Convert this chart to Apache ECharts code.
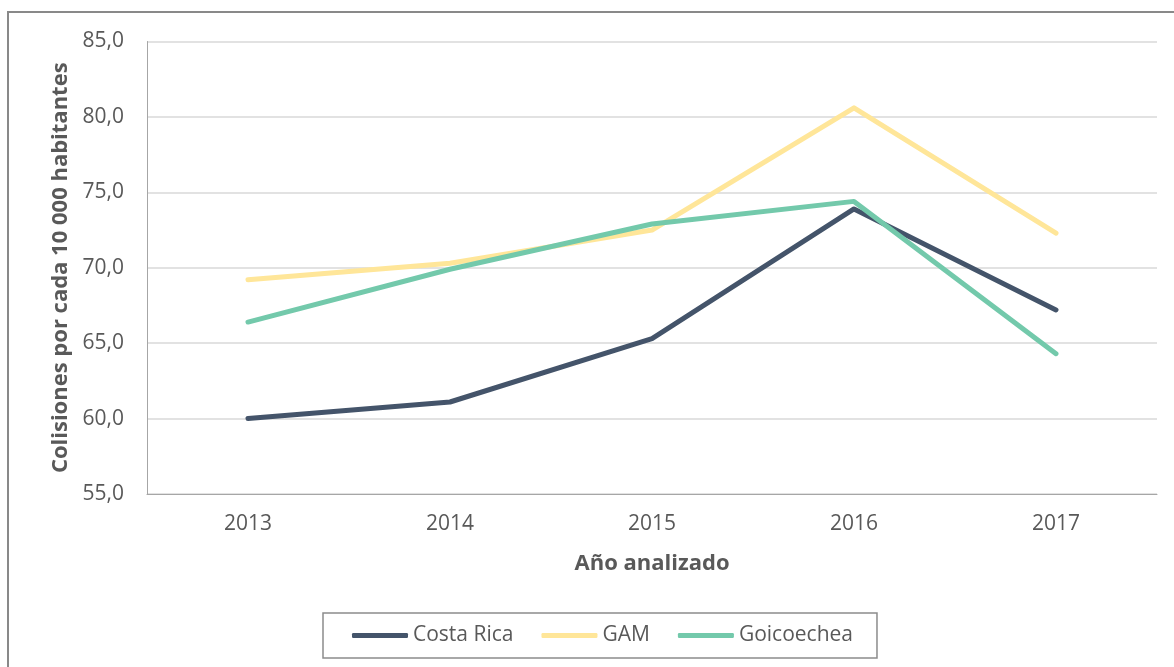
<!DOCTYPE html>
<html>
<head>
<meta charset="utf-8">
<script src="https://cdn.jsdelivr.net/npm/echarts@6/dist/echarts.min.js"></script>
<style>
  html, body { margin: 0; padding: 0; background: #ffffff; }
  #chart { width: 1174px; height: 667px; }
</style>
</head>
<body>
<div id="chart"></div>
<script>
// Colisiones por cada 10 000 habitantes, 2013-2017
const years = ['2013', '2014', '2015', '2016', '2017'];
const costaRica = [60.0, 61.1, 65.3, 73.9, 67.2];
const gam = [69.2, 70.3, 72.5, 80.6, 72.3];
const goicoechea = [66.4, 69.9, 72.9, 74.4, 64.3];

const FONT = '"Open Sans", "Liberation Sans", sans-serif';
const TEXT_COLOR = '#595959';

const chart = echarts.init(document.getElementById('chart'), null, { renderer: 'canvas' });

function lineSeries(name, data, color) {
  return {
    name: name,
    type: 'line',
    data: data,
    showSymbol: false,
    symbol: 'none',
    smooth: false,
    color: color,
    lineStyle: { color: color, width: 5, cap: 'round', join: 'round' },
    itemStyle: { color: color },
    emphasis: { disabled: true }
  };
}

chart.setOption({
  animation: false,
  backgroundColor: '#ffffff',
  textStyle: { fontFamily: FONT },
  graphic: [{
    type: 'rect',
    shape: { x: 8, y: 12, width: 1300, height: 800 },
    style: { fill: 'none', stroke: '#898989', lineWidth: 2 },
    silent: true
  }],
  grid: { left: 147, right: 17, top: 41.5, bottom: 173, containLabel: false },
  legend: {
    left: 323,
    top: 613,
    orient: 'horizontal',
    itemWidth: 56,
    itemHeight: 5,
    itemGap: 28,
    padding: [12, 24, 12, 29],
    borderColor: '#8c8c8c',
    borderWidth: 1.5,
    icon: 'roundRect',
    textStyle: { fontFamily: FONT, fontSize: 21, color: TEXT_COLOR },
    data: ['Costa Rica', 'GAM', 'Goicoechea']
  },
  xAxis: {
    type: 'category',
    data: years,
    boundaryGap: true,
    name: 'Año analizado',
    nameLocation: 'middle',
    nameGap: 59,
    nameTextStyle: { fontFamily: FONT, fontSize: 22, fontWeight: 'bold', color: TEXT_COLOR },
    axisLine: { lineStyle: { color: '#a6a6a6', width: 1 } },
    axisTick: { show: false },
    axisLabel: { fontFamily: FONT, fontSize: 21, color: TEXT_COLOR, margin: 20 },
    splitLine: { show: false }
  },
  yAxis: {
    type: 'value',
    min: 55,
    max: 85,
    interval: 5,
    name: 'Colisiones por cada 10 000 habitantes',
    nameLocation: 'middle',
    nameGap: 72,
    nameRotate: 90,
    nameTextStyle: { fontFamily: FONT, fontSize: 22, fontWeight: 'bold', color: TEXT_COLOR },
    axisLine: { show: true, lineStyle: { color: '#a6a6a6', width: 1 } },
    axisTick: { show: false },
    axisLabel: {
      fontFamily: FONT, fontSize: 21, color: TEXT_COLOR, margin: 23,
      formatter: v => v.toFixed(1).replace('.', ',')
    },
    splitLine: { lineStyle: { color: '#d9d9d9', width: 1.5 } }
  },
  series: [
    lineSeries('Costa Rica', costaRica, '#44546A'),
    lineSeries('GAM', gam, '#FFE699'),
    lineSeries('Goicoechea', goicoechea, '#73C9AB')
  ]
});
</script>
</body>
</html>
